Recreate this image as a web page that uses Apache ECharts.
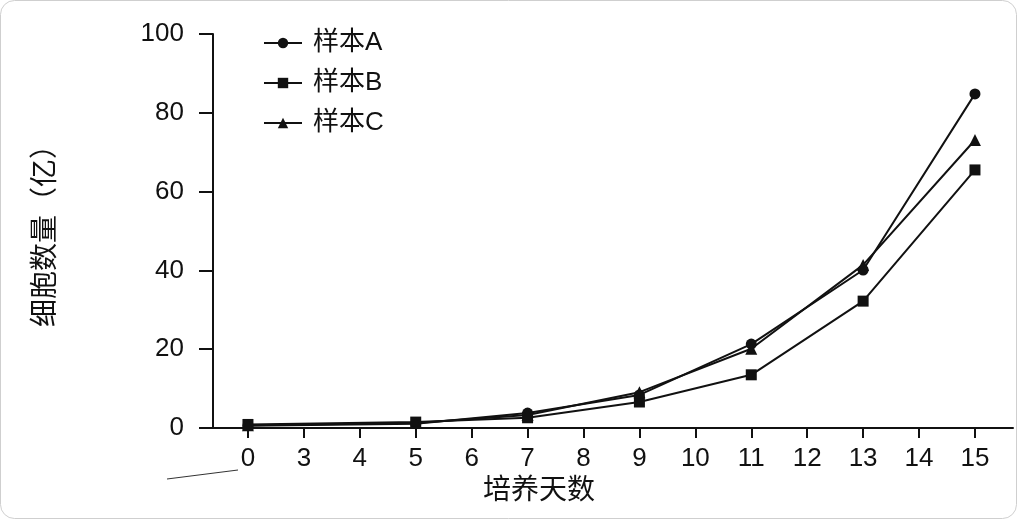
<!DOCTYPE html>
<html>
<head>
<meta charset="utf-8">
<script src="https://cdn.jsdelivr.net/npm/echarts@6/dist/echarts.min.js"></script>
<style>
html,body{margin:0;padding:0;background:#fff;}
#c{width:1017px;height:519px;}
</style>
</head>
<body>
<div id="c"></div>
<script>
var categories = ['0','3','4','5','6','7','8','9','10','11','12','13','14','15'];
var seriesNames = ['样本A','样本B','样本C'];
var sampleA = [0.6, null, null, 1.1, null, 3.8, null, 8.4, null, 21.3, null, 40.1, null, 84.8];
var sampleB = [0.9, null, null, 1.5, null, 2.6, null, 6.6, null, 13.5, null, 32.2, null, 65.5];
var sampleC = [0.7, null, null, 1.3, null, 3.3, null, 9.1, null, 20.1, null, 41.4, null, 73.1];
var yTicks = [0, 20, 40, 60, 80, 100];
var xName = '培养天数';
var yName = '细胞数量（亿）';

var FONT = '"Liberation Sans", "Noto Sans CJK SC", sans-serif';
function pairs(arr){
  var out = [];
  arr.forEach(function(v,i){ if(v!==null) out.push([i, v]); });
  return out;
}
var idx = categories.map(function(c,i){return i;});
var symbols = ['circle','rect','triangle'];
var datas = [sampleA, sampleB, sampleC];

var chart = echarts.init(document.getElementById('c'), null, {renderer:'canvas'});
chart.setOption({
  animation:false,
  backgroundColor:'#fff',
  textStyle:{fontFamily:FONT},
  grid:{left:213, right:4, top:34, bottom:91, containLabel:false},
  legend:{
    orient:'vertical', left:263, top:30, padding:0,
    itemWidth:38, itemHeight:13, itemGap:14,
    lineStyle:{width:2, color:'#111'},
    textStyle:{fontSize:26, color:'#111', fontFamily:FONT, padding:[0,0,0,6]},
    data:seriesNames
  },
  xAxis:{
    type:'value', min:-0.625, max:13.68,
    axisLine:{onZero:false, lineStyle:{color:'#111', width:2}},
    axisTick:{show:true, length:10, inside:false, lineStyle:{color:'#111', width:2}, customValues:idx},
    axisLabel:{fontSize:26, color:'#111', margin:18, fontFamily:FONT, customValues:idx,
      formatter:function(v){ return categories[Math.round(v)]; }},
    splitLine:{show:false}
  },
  yAxis:{
    type:'value', min:yTicks[0], max:yTicks[yTicks.length-1], interval:20,
    axisLine:{show:true, onZero:false, lineStyle:{color:'#111', width:2}},
    axisTick:{show:true, length:14, lineStyle:{color:'#111', width:2}},
    axisLabel:{fontSize:26, color:'#111', margin:29, fontFamily:FONT},
    splitLine:{show:false}
  },
  series: seriesNames.map(function(n,k){
    return {
      name:n, type:'line', data:pairs(datas[k]), connectNulls:true,
      symbol:symbols[k], symbolSize: k===2 ? 12 : 11, showSymbol:true,
      itemStyle:{color:'#111'}, lineStyle:{color:'#111', width:2}
    };
  }),
  graphic:[
    {type:'rect', shape:{x:0.5,y:0.5,width:1016,height:518,r:14}, style:{fill:'none', stroke:'#cfcfcf', lineWidth:1}, silent:true},
    {type:'line', shape:{x1:167,y1:479,x2:238,y2:470}, style:{stroke:'#333', lineWidth:1}, silent:true},
    {type:'text', x:539, y:491, style:{text:xName, fontSize:28, fill:'#111', fontFamily:FONT, align:'center', verticalAlign:'middle'}},
    {type:'text', x:46, y:229, rotation:Math.PI/2, style:{text:yName, fontSize:28, fill:'#111', fontFamily:FONT, align:'center', verticalAlign:'middle'}}
  ]
});
</script>
</body>
</html>
